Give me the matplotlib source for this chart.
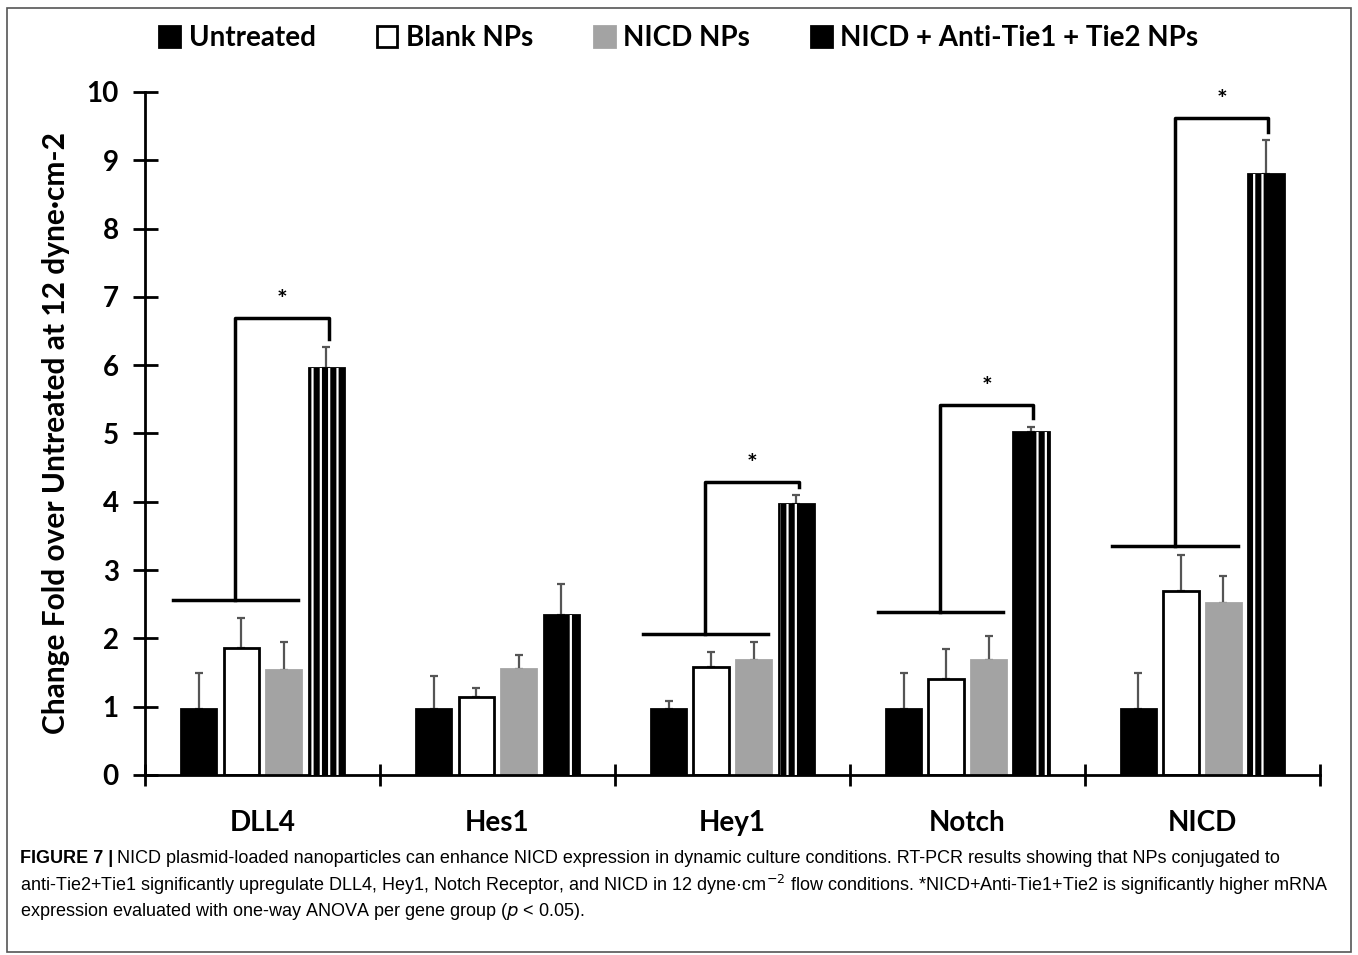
import matplotlib
matplotlib.use("Agg")
import matplotlib.pyplot as plt
from matplotlib.patches import Rectangle, Patch
import numpy as np

genes = ["DLL4", "Hes1", "Hey1", "Notch", "NICD"]
groups = ["Untreated", "Blank NPs", "NICD NPs", "NICD + Anti-Tie1 + Tie2 NPs"]
untreated = [0.97, 0.97, 0.97, 0.97, 0.97]
blank = [1.86, 1.14, 1.58, 1.40, 2.70]
nicd_np = [1.54, 1.55, 1.68, 1.68, 2.52]
combo = [5.96, 2.34, 3.97, 5.02, 8.80]
untreated_err = [0.53, 0.48, 0.11, 0.53, 0.53]
blank_err = [0.44, 0.13, 0.22, 0.45, 0.52]
nicd_np_err = [0.41, 0.20, 0.27, 0.35, 0.40]
combo_err = [0.31, 0.46, 0.13, 0.08, 0.50]
# significance brackets: (gene index, base line y, top y)
brackets = [(0, 2.56, 6.69), (2, 2.06, 4.29), (3, 2.39, 5.42), (4, 3.35, 9.62)]

FONT = ["Lato", "DejaVu Sans"]
plt.rcParams["font.family"] = FONT
plt.rcParams["hatch.linewidth"] = 1.6

fig = plt.figure(figsize=(13.58, 9.55), dpi=100)
ax = fig.add_axes([0.1068, 0.1885, 0.865, 0.7152])

x = np.arange(len(genes))
w, step = 0.15, 0.181
vals = [untreated, blank, nicd_np, combo]
errs = [untreated_err, blank_err, nicd_np_err, combo_err]
faces = ["black", "white", "#a3a3a3", "black"]
edges = ["black", "black", "#a3a3a3", "black"]
for i, (v, e) in enumerate(zip(vals, errs)):
    xs = x + (i - 1.5) * step
    ax.errorbar(xs, v, yerr=[np.zeros(len(v)), e], fmt="none", ecolor="#555555",
                elinewidth=1.6, capsize=3, capthick=1.6, zorder=1)
    ax.bar(xs, v, w, color=faces[i], edgecolor=edges[i], lw=2, zorder=2)

# white chain-like stripes in the combined bars (partial, as in the scan)
spans = [(0.08, 0.95), (0.72, 0.86), (0.05, 0.6), (0.5, 0.95), (0.05, 0.45)]
for gi, (a, b) in enumerate(spans):
    left = x[gi] + 1.5 * step - w / 2
    ax.bar(left + a * w, combo[gi], (b - a) * w, align="edge", facecolor="none",
           edgecolor="white", hatch="||", lw=0, zorder=3)

# brackets + stars
for gi, ybase, ytop in brackets:
    c = x[gi]
    xl, xr = c - 2.0 * step - 0.02, c + 0.5 * step + 0.06
    ax.plot([xl, xr], [ybase, ybase], color="black", lw=2.5, zorder=4)
    xm = (xl + xr) / 2
    xe = c + 1.5 * step + 0.01
    ye = combo[gi] + combo_err[gi] + 0.12
    ax.plot([xm, xm, xe, xe], [ybase, ytop, ytop, ye], color="black", lw=2.5,
            zorder=4, solid_joinstyle="round")
    ax.text((xm + xe) / 2, ytop + 0.25, "*", ha="center", va="center",
            fontsize=18, fontweight="bold")

ax.set_xlim(-0.5, 4.5)
ax.set_ylim(0, 10)
ax.set_yticks(range(11))
ax.set_xticks(x)
ax.set_xticklabels(genes, fontsize=20, fontweight="bold")
ax.set_xticks(np.arange(-0.5, 5, 1), minor=True)
ax.tick_params(axis="x", which="major", length=0, pad=25)
ax.tick_params(axis="x", which="minor", direction="inout", length=16, width=2)
ax.tick_params(axis="y", direction="inout", length=18, width=2, labelsize=20, pad=10)
for lab in ax.get_yticklabels():
    lab.set_fontweight("bold")
for s in ["top", "right"]:
    ax.spines[s].set_visible(False)
ax.spines["left"].set_linewidth(2)
ax.spines["bottom"].set_linewidth(2)
ax.set_ylabel("Change Fold over Untreated at 12 dyne\u00b7cm-2", fontsize=21.5,
              fontweight="bold", labelpad=12)

handles = [Patch(facecolor=faces[i], edgecolor="black" if i != 2 else "#a3a3a3", lw=2)
           for i in range(4)]
fig.legend(handles, groups, loc="center", bbox_to_anchor=(0.5, 0.96), ncol=4,
           frameon=False, prop={"size": 20, "weight": "bold"}, handlelength=0.75,
           handleheight=0.75, handletextpad=0.3, columnspacing=2.2)

# caption
cap_font = ["Liberation Sans Narrow", "Liberation Sans", "DejaVu Sans"]
fig.canvas.draw()
r = fig.canvas.get_renderer()
x0 = 20 / 1358
t = fig.text(x0, 1 - 858 / 955, "FIGURE 7 |", fontsize=13, fontweight="bold",
             family=cap_font, va="center")
bb = t.get_window_extent(r)
fig.text(bb.x1 / fig.bbox.width + 0.003, 1 - 858 / 955,
         "NICD plasmid-loaded nanoparticles can enhance NICD expression in dynamic culture conditions. "
         "RT-PCR results showing that NPs conjugated to", fontsize=13, family=cap_font, va="center")
fig.text(x0, 1 - 885 / 955,
         "anti-Tie2+Tie1 significantly upregulate DLL4, Hey1, Notch Receptor, and NICD in 12 dyne\u00b7cm$^{-2}$ "
         "flow conditions. *NICD+Anti-Tie1+Tie2 is significantly higher mRNA", fontsize=13,
         family=cap_font, va="center")
fig.text(x0, 1 - 911 / 955,
         "expression evaluated with one-way ANOVA per gene group ($p$ < 0.05).", fontsize=13,
         family=cap_font, va="center")

fig.patches.append(Rectangle((7 / 1358, 3 / 955), 1344 / 1358, 944 / 955, transform=fig.transFigure,
                             fill=False, edgecolor="#555555", lw=1.2))

fig.savefig("out.png", dpi=100)
